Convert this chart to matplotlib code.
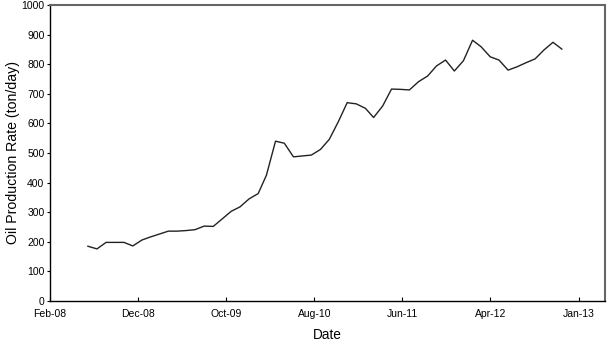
import matplotlib
matplotlib.use("Agg")
import matplotlib.pyplot as plt
import matplotlib.dates as mdates
import numpy as np
import pandas as pd

# Monthly oil production rate, Jul-2008 .. Dec-2012
START_MONTH = "2008-07-01"
RATE = [
    185, 176, 198, 198, 198, 186, 206, 217, 226, 236,
    236, 238, 241, 253, 252, 277, 303, 318, 345, 363,
    425, 540, 533, 487, 490, 493, 512, 546, 606, 670,
    666, 651, 620, 659, 716, 715, 713, 741, 760, 794,
    814, 777, 812, 881, 859, 825, 814, 780, 791, 805,
    818, 848, 874, 851,
]
TICK_LABELS = ["Feb-08", "Dec-08", "Oct-09", "Aug-10", "Jun-11", "Apr-12", "Jan-13"]
Y_TICKS = [0, 100, 200, 300, 400, 500, 600, 700, 800, 900, 1000]

dates = pd.date_range(START_MONTH, periods=len(RATE), freq="MS")

# Excel-style date axis: first tick at axis origin, one tick every 300 days
axis_start = pd.Timestamp("2008-02-23")
tick_step = pd.Timedelta(days=300)
tick_dates = [axis_start + i * tick_step for i in range(len(TICK_LABELS))]
axis_end = axis_start + pd.Timedelta(days=1890)

plt.rcParams["font.family"] = ["Liberation Sans", "DejaVu Sans"]

fig = plt.figure(figsize=(6.07, 3.41), dpi=100)
ax = fig.add_axes([50 / 607, 40 / 341, 555 / 607, 296 / 341])

ax.plot(dates, RATE, color="#222222", linewidth=1.0)

ax.set_xlim(axis_start, axis_end)
ax.set_ylim(0, 1000)
ax.set_xticks(tick_dates)
ax.set_xticklabels(TICK_LABELS)
ax.set_yticks(Y_TICKS)

ax.tick_params(axis="x", direction="in", length=3, width=0.8, labelsize=7.5, pad=6)
ax.tick_params(axis="y", direction="out", length=2, width=0.8, labelsize=7.5, pad=2)

for side in ("left", "bottom"):
    ax.spines[side].set_color("black")
    ax.spines[side].set_linewidth(1.0)
for side in ("top", "right"):
    ax.spines[side].set_color("#666666")
    ax.spines[side].set_linewidth(1.5)

ax.set_xlabel("Date", fontsize=9.8, labelpad=6)
ax.set_ylabel("Oil Production Rate (ton/day)", fontsize=10.2, labelpad=1)

fig.savefig("out.png", dpi=100, facecolor="white")
